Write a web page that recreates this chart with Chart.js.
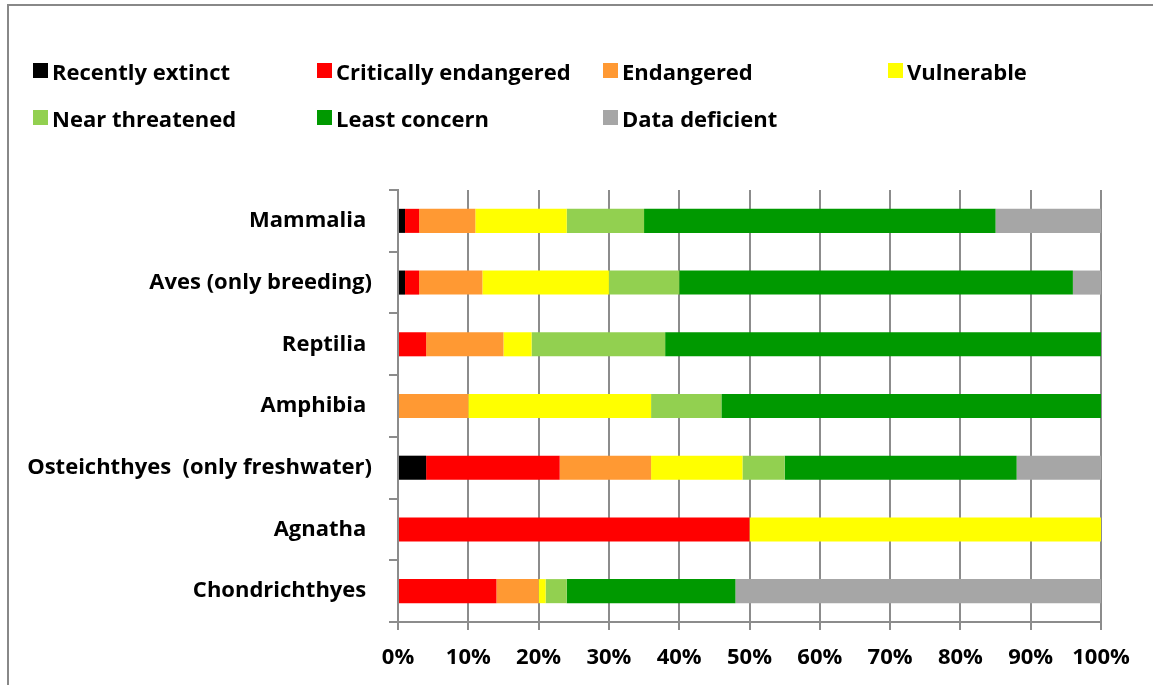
<!DOCTYPE html>
<html>
<head>
<meta charset="utf-8">
<script src="https://cdn.jsdelivr.net/npm/chart.js@4"></script>
<style>
  body { margin: 0; background: #fff; }
  #wrap { position: relative; width: 1153px; height: 685px; overflow: hidden; }
  #frame { position: absolute; left: 7px; top: 4px; width: 1160px; height: 700px;
           border-top: 2px solid #888; border-left: 2px solid #888; }
  #legend { position: absolute; left: 33px; top: 47px; display: grid;
            grid-template-columns: 284px 286px 285px 200px; grid-auto-rows: 47px;
            font: bold 22px "Open Sans", sans-serif; color: #000; }
  #legend .item { display: flex; align-items: center; }
  #legend .box { width: 15px; height: 15px; margin-right: 4px; flex: none; }
  canvas { position: absolute; left: 0; top: 0; }
</style>
</head>
<body>
<div id="wrap">
  <div id="frame"></div>
  <canvas id="chart" width="1153" height="685"></canvas>
  <div id="legend"></div>
</div>
<script>
const groups = ["Mammalia ", "Aves (only breeding)", "Reptilia ", "Amphibia ",
                "Osteichthyes  (only freshwater)", "Agnatha ", "Chondrichthyes "];
const statuses = ["Recently extinct", "Critically endangered", "Endangered", "Vulnerable",
                  "Near threatened", "Least concern", "Data deficient"];
const colors = ["#000000", "#ff0000", "#ff9933", "#ffff00", "#92d050", "#009900", "#a6a6a6"];

// percent of species per group, same order as groups
const recentlyExtinct      = [1, 1, 0, 0, 4, 0, 0];
const criticallyEndangered = [2, 2, 4, 0, 19, 50, 14];
const endangered           = [8, 9, 11, 10, 13, 0, 6];
const vulnerable           = [13, 18, 4, 26, 13, 50, 1];
const nearThreatened       = [11, 10, 19, 10, 6, 0, 3];
const leastConcern         = [50, 56, 62, 54, 33, 0, 24];
const dataDeficient        = [15, 4, 0, 0, 12, 0, 52];

const xTicks = [0, 10, 20, 30, 40, 50, 60, 70, 80, 90, 100];

const series = [recentlyExtinct, criticallyEndangered, endangered, vulnerable,
                nearThreatened, leastConcern, dataDeficient];

const gridGray = "#8c8c8c";
const tickFont = { family: "Open Sans", size: 22, weight: "bold" };

const chart = new Chart(document.getElementById("chart"), {
  type: "bar",
  data: {
    labels: groups,
    datasets: series.map((vals, i) => ({
      label: statuses[i],
      data: vals,
      backgroundColor: colors[i],
      borderWidth: 0,
      barPercentage: 0.39,
      categoryPercentage: 1
    }))
  },
  options: {
    indexAxis: "y",
    responsive: false,
    animation: false,
    layout: { padding: { top: 190, right: 52, left: 0, bottom: 0 } },
    plugins: { legend: { display: false }, tooltip: { enabled: false } },
    scales: {
      x: {
        stacked: true,
        min: 0,
        max: 100,
        afterBuildTicks: (scale) => { scale.ticks = xTicks.map(v => ({ value: v })); },
        afterFit: (scale) => { scale.height = 63; },
        grid: { color: gridGray, lineWidth: 2, tickLength: 8 },
        border: { color: gridGray, width: 2 },
        ticks: { color: "#000", font: tickFont, padding: 15, maxRotation: 0,
                 callback: (v) => v + "%" }
      },
      y: {
        stacked: true,
        afterFit: (scale) => { scale.width = 398; },
        grid: { drawOnChartArea: false, color: gridGray, lineWidth: 2, tickLength: 9, offset: true },
        border: { color: gridGray, width: 2 },
        ticks: { color: "#000", font: tickFont, padding: 17 }
      }
    }
  }
});

const legendEl = document.getElementById("legend");
chart.data.datasets.forEach(ds => {
  const item = document.createElement("div");
  item.className = "item";
  const box = document.createElement("span");
  box.className = "box";
  box.style.background = ds.backgroundColor;
  const txt = document.createElement("span");
  txt.textContent = ds.label;
  item.appendChild(box);
  item.appendChild(txt);
  legendEl.appendChild(item);
});
</script>
</body>
</html>
